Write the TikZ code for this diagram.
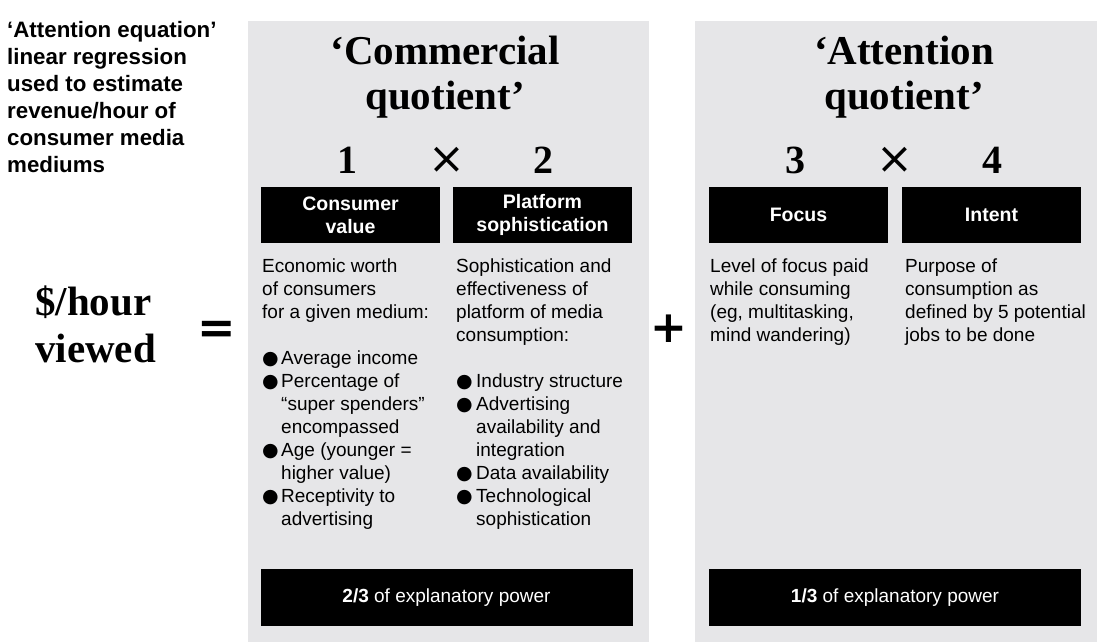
\documentclass[tikz,border=0pt]{standalone}
\usepackage{fontspec}
\setmainfont{Liberation Serif}
\setsansfont{Liberation Sans}
\newfontfamily\dejavu{DejaVu Sans}
\definecolor{panelgray}{HTML}{E6E6E8}
\newcommand\blt{\makebox[19pt][l]{\dejavu\fontsize{19}{19}\selectfont ●}}
\newcommand\bltt{\makebox[20pt][l]{\dejavu\fontsize{19}{19}\selectfont ●}}
\newcommand\ind{\hspace*{19pt}}
\newcommand\indd{\hspace*{20pt}}
\begin{document}
\begin{tikzpicture}[x=1pt,y=-1pt,
  panel/.style={fill=panelgray,draw=none},
  title/.style={font=\rmfamily\bfseries\fontsize{41}{45}\selectfont,align=center,inner sep=0,anchor=north},
  digit/.style={font=\rmfamily\bfseries\fontsize{40}{40}\selectfont,inner sep=0,anchor=base},
  timesop/.style={font=\dejavu\fontsize{44}{44}\selectfont,inner sep=0},
  blackbox/.style={fill=black,text=white,inner sep=0,align=center,font=\sffamily\bfseries\fontsize{19.5}{23}\selectfont},
  bottombox/.style={fill=black,text=white,inner sep=0,align=center,font=\sffamily\fontsize{19}{23}\selectfont,minimum width=372pt,minimum height=57pt},
  bodytext/.style={font=\sffamily\fontsize{19}{23}\selectfont,align=left,inner sep=0,anchor=north west},
]
\useasboundingbox (0,0) rectangle (1102,642);
\fill[white] (0,0) rectangle (1102,642);
% panels
\fill[panel] (248,21) rectangle (649,642);
\fill[panel] (695,21) rectangle (1097,642);

% left header
\node[font=\sffamily\bfseries\fontsize{22.3}{27}\selectfont,align=left,inner sep=0,anchor=north west] (head) at (7,21)
 {‘Attention equation’\\linear regression\\used to estimate\\revenue/hour of\\consumer media\\mediums};

% $/hour viewed
\node[font=\rmfamily\bfseries\fontsize{41}{47}\selectfont,align=left,inner sep=0,anchor=north west] (lhs) at (35,286)
 {\$/hour\\viewed};
\node[font=\dejavu\bfseries\fontsize{46}{46}\selectfont,inner sep=0] (eq) at (216.5,332) {=};
\node[font=\dejavu\bfseries\fontsize{44}{44}\selectfont,inner sep=0] (plus) at (669,329) {+};

% titles
\node[title] (t1) at (445,36) {‘Commercial\\quotient’};
\node[title] (t2) at (904,36) {‘Attention\\quotient’};

% numbers
\node[digit] (n1) at (347,173) {1};
\node[timesop] (x1) at (447,160) {×};
\node[digit] (n2) at (543,173) {2};
\node[digit] (n3) at (795,173) {3};
\node[timesop] (x2) at (895,160) {×};
\node[digit] (n4) at (992,173) {4};

% black label boxes
\node[blackbox,minimum width=179pt,minimum height=56pt] (cv) at (350.5,215) {Consumer\\value};
\node[blackbox,minimum width=179pt,minimum height=56pt] (ps) at (542.5,215) {Platform\\sophistication};
\node[blackbox,minimum width=179pt,minimum height=56pt] (fo) at (798.5,215) {Focus};
\node[blackbox,minimum width=179pt,minimum height=56pt] (in) at (991.5,215) {Intent};

% descriptions
\node[bodytext] (cvd) at (262,259)
 {Economic worth\\of consumers\\for a given medium:\\[23pt]
  \blt Average income\\
  \blt Percentage of\\
  \ind “super spenders”\\
  \ind encompassed\\
  \blt Age (younger =\\
  \ind higher value)\\
  \blt Receptivity to\\
  \ind advertising};
\node[bodytext] (psd) at (456,259)
 {Sophistication and\\effectiveness of\\platform of media\\consumption:\\[23pt]
  \bltt Industry structure\\
  \bltt Advertising\\
  \indd availability and\\
  \indd integration\\
  \bltt Data availability\\
  \bltt Technological\\
  \indd sophistication};
\node[bodytext] (fod) at (710,259)
 {Level of focus paid\\while consuming\\(eg, multitasking,\\mind wandering)};
\node[bodytext] (ind) at (905,259)
 {Purpose of\\consumption as\\defined by 5 potential\\jobs to be done};

% bottom boxes
\node[bottombox] (cp) at (446.5,597.5) {\textbf{2/3} of explanatory power};
\node[bottombox] (ap) at (895,597.5) {\textbf{1/3} of explanatory power};
\end{tikzpicture}
\end{document}
